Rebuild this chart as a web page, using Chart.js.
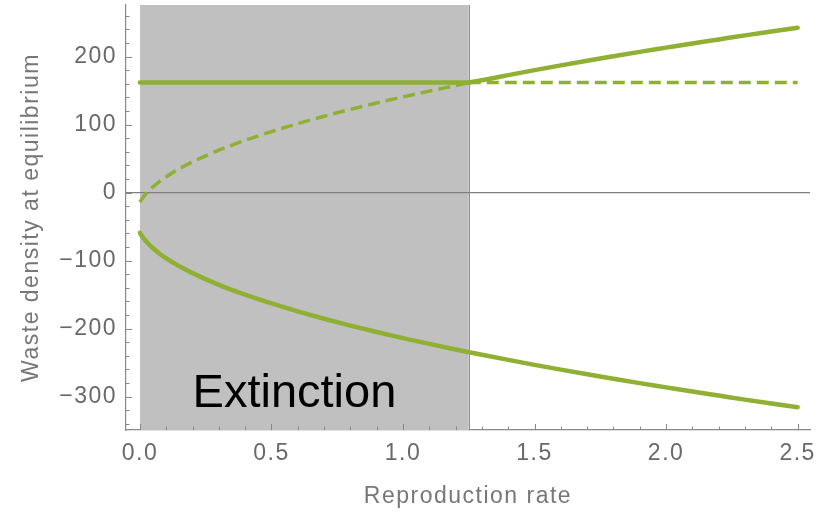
<!DOCTYPE html>
<html>
<head>
<meta charset="utf-8">
<script src="https://cdn.jsdelivr.net/npm/chart.js@4/dist/chart.umd.min.js"></script>
<style>
  html, body { margin: 0; padding: 0; background: #fff; }
  canvas { display: block; }
</style>
</head>
<body>
<canvas id="equilibrium" width="831" height="512"></canvas>
<script>
// reproduction rates sampled below and above the extinction threshold
const ratesBelow = [0, 0.005, 0.01, 0.02, 0.035, 0.05, 0.075, 0.1, 0.15, 0.2, 0.3, 0.4, 0.5, 0.6, 0.7, 0.8, 0.9, 1.0, 1.1, 1.2, 1.25]
const ratesAbove = [1.25, 1.3, 1.4, 1.5, 1.6, 1.7, 1.8, 1.9, 2.0, 2.1, 2.2, 2.3, 2.4, 2.5]

// upper root, unstable (dashed) below the threshold, stable above it
const upperBelow = [-14, -10.8, -7.9, -3, 3.4, 8.8, 16.7, 23.5, 35.3, 45.3, 62.5, 77, 89.9, 101.6, 112.4, 122.5, 131.9, 140.9, 149.4, 157.6, 162]
const upperAbove = [162, 165.4, 172.9, 180.2, 187.2, 194, 200.6, 207.1, 213.3, 219.5, 225.4, 231.3, 237, 242.6]

// lower root over the whole range
const lowerRates = ratesBelow.concat(ratesAbove.slice(1))
const lowerBranch = [-59, -62.2, -65.1, -70, -76.4, -81.8, -89.7, -96.5, -108.3, -118.3, -135.5, -150, -162.9, -174.6,
  -185.4, -195.5, -204.9, -213.9, -222.4, -230.6, -234.5, -238.4, -245.9, -253.2, -260.2, -267, -273.6, -280.1,
  -286.3, -292.5, -298.4, -304.3, -310, -315.6]

// waste level with no population
const emptyLevel = 162
const threshold = 1.25
const extinctionZone = [0, threshold]

const xTicks = [0, 0.5, 1.0, 1.5, 2.0, 2.5]
const yTicks = [-300, -200, -100, 0, 100, 200]

const green = 'rgb(143,176,50)'
const labelFont = { family: '"Liberation Sans", Arial, sans-serif', size: 23 }

function points(xs, ys) {
  return xs.map((x, i) => ({ x: x, y: ys[i] }))
}

const shading = {
  id: 'shading',
  beforeDraw(chart) {
    chart.ctx.letterSpacing = '1.5px'
  },
  beforeDatasetsDraw(chart) {
    const { ctx, chartArea: a, scales: { x, y } } = chart
    const x0 = x.getPixelForValue(extinctionZone[0])
    const x1 = x.getPixelForValue(extinctionZone[1])
    ctx.save()
    ctx.fillStyle = '#c0c0c0'
    ctx.fillRect(x0, a.top, x1 - x0, a.bottom - a.top)
    ctx.strokeStyle = '#8e8e8e'
    ctx.lineWidth = 1
    ctx.beginPath()
    ctx.moveTo(Math.round(x1) + 0.5, a.top)
    ctx.lineTo(Math.round(x1) + 0.5, a.bottom)
    ctx.stroke()
    // zero line
    const y0 = y.getPixelForValue(0)
    ctx.strokeStyle = '#808080'
    ctx.lineWidth = 1.3
    ctx.beginPath()
    ctx.moveTo(a.left, y0)
    ctx.lineTo(a.right, y0)
    ctx.stroke()
    ctx.restore()
  },
  afterDatasetsDraw(chart) {
    const { ctx, scales: { x, y } } = chart
    ctx.save()
    ctx.letterSpacing = '0px'
    ctx.font = '47px "Liberation Sans", Arial, sans-serif'
    ctx.fillStyle = '#000'
    ctx.textAlign = 'left'
    ctx.textBaseline = 'alphabetic'
    ctx.fillText('Extinction', x.getPixelForValue(0.2), y.getPixelForValue(-315))
    ctx.restore()
  },
  afterDraw(chart) {
    // inward ticks on both axes, major and minor
    const { ctx, chartArea: a, scales: { x, y } } = chart
    ctx.save()
    ctx.strokeStyle = '#888'
    ctx.lineWidth = 1
    ctx.beginPath()
    for (let i = 0; i <= 25; i++) {
      const v = i / 10
      const px = Math.round(x.getPixelForValue(v)) + 0.5
      const len = i % 5 === 0 ? 6 : 3.5
      ctx.moveTo(px, a.bottom)
      ctx.lineTo(px, a.bottom - len)
    }
    for (let v = -340; v <= 260; v += 20) {
      const py = Math.round(y.getPixelForValue(v)) + 0.5
      const len = v % 100 === 0 ? 6 : 3.5
      ctx.moveTo(a.left, py)
      ctx.lineTo(a.left + len, py)
    }
    ctx.stroke()
    ctx.restore()
  }
}

new Chart(document.getElementById('equilibrium'), {
  type: 'line',
  data: {
    datasets: [
      {
        data: points([0, threshold], [emptyLevel, emptyLevel]),
        borderColor: green, borderWidth: 4.5, borderCapStyle: 'round'
      },
      {
        data: points([threshold, 2.5], [emptyLevel, emptyLevel]),
        borderColor: green, borderWidth: 3.5, borderDash: [12, 6]
      },
      {
        data: points(ratesBelow, upperBelow),
        borderColor: green, borderWidth: 3.5, borderDash: [12, 6], cubicInterpolationMode: 'monotone'
      },
      {
        data: points(ratesAbove, upperAbove),
        borderColor: green, borderWidth: 4.5, borderCapStyle: 'round', cubicInterpolationMode: 'monotone'
      },
      {
        data: points(lowerRates, lowerBranch),
        borderColor: green, borderWidth: 4.5, borderCapStyle: 'round', cubicInterpolationMode: 'monotone'
      }
    ]
  },
  options: {
    responsive: false,
    animation: false,
    events: [],
    elements: { point: { radius: 0 } },
    layout: { padding: { top: 5, right: 21, left: 0, bottom: 0 } },
    plugins: { legend: { display: false }, tooltip: { enabled: false } },
    scales: {
      x: {
        type: 'linear',
        min: -0.053,
        max: 2.547,
        grid: { drawOnChartArea: false, drawTicks: false },
        border: { color: '#888', width: 1.2 },
        afterBuildTicks: (scale) => { scale.ticks = xTicks.map(v => ({ value: v })) },
        afterFit: (scale) => { scale.height = 82; scale.paddingLeft = 0; scale.paddingRight = 0 },
        ticks: {
          font: labelFont, color: '#696969', padding: 10, maxRotation: 0,
          callback: (v) => v.toFixed(1)
        },
        title: {
          display: true, text: 'Reproduction rate', font: labelFont, color: '#777',
          padding: { top: 0, bottom: 2 }
        }
      },
      y: {
        min: -349,
        max: 276,
        grid: { drawOnChartArea: false, drawTicks: false },
        border: { color: '#888', width: 1.2 },
        afterBuildTicks: (scale) => { scale.ticks = yTicks.map(v => ({ value: v })) },
        afterFit: (scale) => { scale.width = 126; scale.paddingTop = 0; scale.paddingBottom = 0 },
        ticks: {
          font: labelFont, color: '#696969', padding: 9,
          callback: (v) => v < 0 ? '\u2212' + Math.abs(v) : String(v)
        },
        title: {
          display: true, text: 'Waste density at equilibrium', font: labelFont, color: '#777',
          padding: { top: 18, bottom: 0 }
        }
      }
    }
  },
  plugins: [shading]
})
</script>
</body>
</html>
